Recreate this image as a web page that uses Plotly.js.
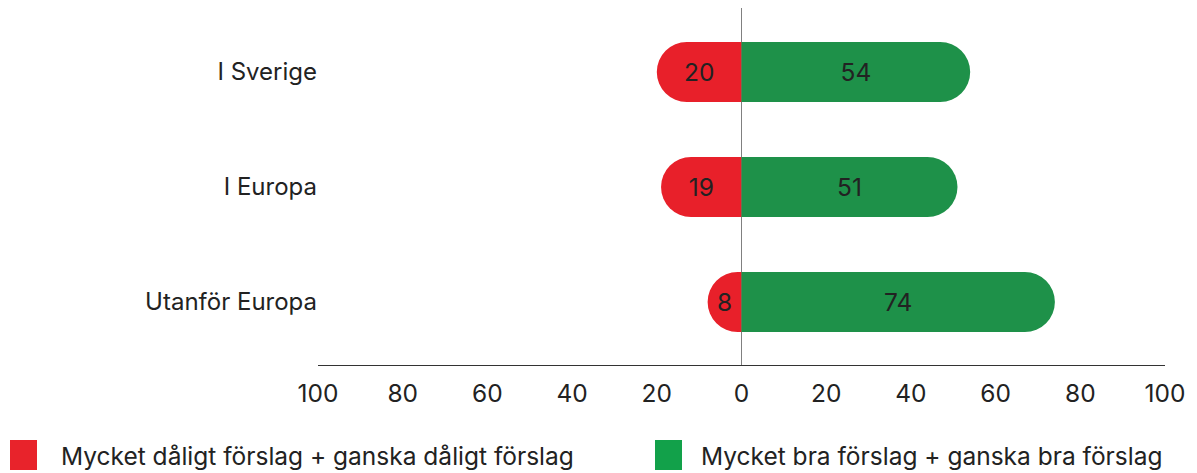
<!DOCTYPE html>
<html>
<head>
<meta charset="utf-8">
<script src="https://cdn.plot.ly/plotly-3.0.1.min.js"></script>
<style>html,body{margin:0;padding:0;background:#fff;}#chart{width:1197px;height:473px;}</style>
</head>
<body>
<div id="chart"></div>
<script>
const categories = ["I Sverige", "I Europa", "Utanför Europa"];
const negativeValues = [20, 19, 8];
const positiveValues = [54, 51, 74];
const tickValues = [-100, -80, -60, -40, -20, 0, 20, 40, 60, 80, 100];
const tickLabels = ["100", "80", "60", "40", "20", "0", "20", "40", "60", "80", "100"];
const legendLabels = ["Mycket dåligt förslag + ganska dåligt förslag", "Mycket bra förslag + ganska bra förslag"];

const FONT = "Inter, Liberation Sans, Arial, sans-serif";
const barRed = "#e8202a", barGreen = "#1e9149";
const legRed = "#e8232b", legGreen = "#12a14a";

const traces = [
  {
    type: "bar", orientation: "h", y: categories,
    x: negativeValues.map(v => -v),
    text: negativeValues.map(String),
    textposition: "inside", insidetextanchor: "middle",
    textfont: {family: FONT, size: 24.5, color: "#222"},
    constraintext: "none",
    marker: {color: barRed, cornerradius: 30},
    hoverinfo: "skip", showlegend: false
  },
  {
    type: "bar", orientation: "h", y: categories,
    x: positiveValues,
    text: positiveValues.map(String),
    textposition: "inside", insidetextanchor: "middle",
    textfont: {family: FONT, size: 24.5, color: "#222"},
    constraintext: "none",
    marker: {color: barGreen, cornerradius: 30},
    hoverinfo: "skip", showlegend: false
  }
];

const layout = {
  width: 1197, height: 473,
  margin: {l: 318, r: 32, t: 8, b: 108},
  paper_bgcolor: "#fff", plot_bgcolor: "#fff",
  barmode: "relative", bargap: 0.478,
  font: {family: FONT, color: "#222"},
  showlegend: false,
  xaxis: {
    range: [-100, 100], tickvals: tickValues, ticktext: tickLabels,
    tickfont: {size: 24.5, color: "#222"},
    showgrid: false, zeroline: true, zerolinecolor: "#808080", zerolinewidth: 1.5,
    showline: true, linecolor: "#333", linewidth: 1.2,
    ticks: "outside", ticklen: 6, tickcolor: "rgba(0,0,0,0)",
    fixedrange: true
  },
  yaxis: {
    type: "category", range: [2.548, -0.556],
    tickfont: {size: 24, color: "#222"},
    showgrid: false, zeroline: false, showline: false,
    ticks: "", fixedrange: true
  },
  shapes: [
    {type: "rect", xref: "paper", yref: "paper", x0: (10-318)/847, x1: (37-318)/847, y0: -(470-365)/357, y1: -(440-365)/357, fillcolor: legRed, line: {width: 0}},
    {type: "rect", xref: "paper", yref: "paper", x0: (655-318)/847, x1: (682-318)/847, y0: -(470-365)/357, y1: -(440-365)/357, fillcolor: legGreen, line: {width: 0}}
  ],
  annotations: [
    {xref: "paper", yref: "paper", x: (59-318)/847, y: -(456-365)/357, xanchor: "left", yanchor: "middle", showarrow: false, text: legendLabels[0], font: {size: 24.5, color: "#222", family: FONT}},
    {xref: "paper", yref: "paper", x: (699-318)/847, y: -(456-365)/357, xanchor: "left", yanchor: "middle", showarrow: false, text: legendLabels[1], font: {size: 24.5, color: "#222", family: FONT}}
  ]
};

Plotly.newPlot("chart", traces, layout, {displayModeBar: false, staticPlot: true});
</script>
</body>
</html>
